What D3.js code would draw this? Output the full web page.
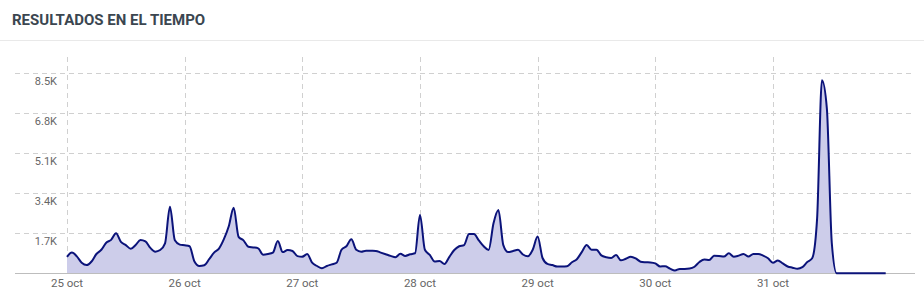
<!DOCTYPE html>
<html>
<head>
<meta charset="utf-8">
<script src="https://cdn.jsdelivr.net/npm/d3@7"></script>
<style>
  html, body { margin: 0; padding: 0; background: #fff; }
  svg { display: block; font-family: Roboto, "Open Sans", sans-serif; }
</style>
</head>
<body>
<svg width="924" height="300"></svg>
<script>
// etiquetas de los días (eje x)
var dayLabels = ['25 oct', '26 oct', '27 oct', '28 oct', '29 oct', '30 oct', '31 oct'];

// resultados por hora, un array por día
var oct25 = [700, 880, 720, 450, 350, 500, 820, 1000, 1300, 1420, 1700, 1340, 1200, 1040, 1200, 1420, 1360, 1080, 920, 990, 1275, 2830, 1400, 1220];
var oct26 = [1190, 1150, 500, 310, 340, 600, 880, 1050, 1450, 2000, 2790, 1550, 1400, 1130, 1100, 1060, 790, 820, 880, 1370, 900, 990, 950, 730];
var oct27 = [705, 820, 450, 310, 212, 310, 380, 450, 1000, 1150, 1445, 1000, 920, 960, 955, 950, 880, 810, 740, 680, 830, 740, 810, 850];
var oct28 = [2480, 1000, 780, 500, 520, 395, 700, 990, 1150, 1200, 1670, 1670, 1400, 1150, 990, 2125, 2690, 1200, 900, 950, 1000, 800, 720, 1000];
var oct29 = [1560, 650, 400, 350, 285, 285, 300, 470, 600, 900, 1200, 1000, 1000, 760, 680, 650, 780, 550, 620, 705, 635, 495, 470, 460];
var oct30 = [420, 290, 300, 200, 120, 185, 185, 200, 280, 480, 590, 560, 750, 740, 710, 850, 705, 750, 820, 710, 820, 820, 750, 640];
var oct31 = [450, 540, 420, 290, 240, 190, 260, 480, 640, 2300, 8200, 7000, 1300, 0, 0, 0, 0, 0, 0, 0, 0, 0, 0, 0];

var yTicks = [1700, 3400, 5100, 6800, 8500];
var yTickLabels = ['1.7K', '3.4K', '5.1K', '6.8K', '8.5K'];

var values = [].concat(oct25, oct26, oct27, oct28, oct29, oct30, oct31);

var width = 924, height = 300;
var svg = d3.select('svg');

// título
svg.append('text')
  .attr('x', 12).attr('y', 25)
  .attr('fill', '#3b4650')
  .style('font-size', '15px')
  .style('font-weight', 'bold')
  .text('RESULTADOS EN EL TIEMPO');

svg.append('line')
  .attr('x1', 0).attr('x2', width)
  .attr('y1', 40.5).attr('y2', 40.5)
  .attr('stroke', '#e9e9e9');

var x = d3.scaleLinear().domain([0, values.length]).range([67, 890.6]);
var y = d3.scaleLinear().domain([0, 8500]).range([273.3, 73.3]);

var g = svg.append('g');

// rejilla horizontal
g.selectAll('line.hgrid')
  .data(yTicks)
  .enter().append('line')
  .attr('class', 'hgrid')
  .attr('x1', 15).attr('x2', 915)
  .attr('y1', function (d) { return Math.round(y(d)) + 0.5; })
  .attr('y2', function (d) { return Math.round(y(d)) + 0.5; })
  .attr('stroke', '#d0d0d0')
  .attr('stroke-dasharray', '5,4');

// rejilla vertical (un día = 24 h)
g.selectAll('line.vgrid')
  .data(dayLabels)
  .enter().append('line')
  .attr('class', 'vgrid')
  .attr('x1', function (d, i) { return Math.round(x(i * 24)) + 0.5; })
  .attr('x2', function (d, i) { return Math.round(x(i * 24)) + 0.5; })
  .attr('y1', 57).attr('y2', 273)
  .attr('stroke', '#d0d0d0')
  .attr('stroke-dasharray', '5,4');

// etiquetas eje y
g.selectAll('text.ylab')
  .data(yTicks)
  .enter().append('text')
  .attr('class', 'ylab')
  .attr('x', 57)
  .attr('y', function (d) { return y(d) + 12; })
  .attr('text-anchor', 'end')
  .attr('fill', '#666')
  .style('font-size', '11px')
  .text(function (d, i) { return yTickLabels[i]; });

// etiquetas eje x
g.selectAll('text.xlab')
  .data(dayLabels)
  .enter().append('text')
  .attr('class', 'xlab')
  .attr('x', function (d, i) { return x(i * 24); })
  .attr('y', 287)
  .attr('text-anchor', 'middle')
  .attr('fill', '#666')
  .style('font-size', '11.5px')
  .text(function (d) { return d; });

// área + línea
var area = d3.area()
  .x(function (d, i) { return x(i); })
  .y0(y(0))
  .y1(function (d) { return y(d); })
  .curve(d3.curveMonotoneX);

var line = d3.line()
  .x(function (d, i) { return x(i); })
  .y(function (d) { return y(d); })
  .curve(d3.curveMonotoneX);

g.append('path')
  .datum(values)
  .attr('d', area)
  .attr('fill', '#cdcdea');

// eje base
g.append('line')
  .attr('x1', 15).attr('x2', 915)
  .attr('y1', 273.5).attr('y2', 273.5)
  .attr('stroke', '#bdbdbd');

g.append('path')
  .datum(values)
  .attr('d', line)
  .attr('fill', 'none')
  .attr('stroke', '#0b137a')
  .attr('stroke-width', 2)
  .attr('stroke-linejoin', 'round');
</script>
</body>
</html>
